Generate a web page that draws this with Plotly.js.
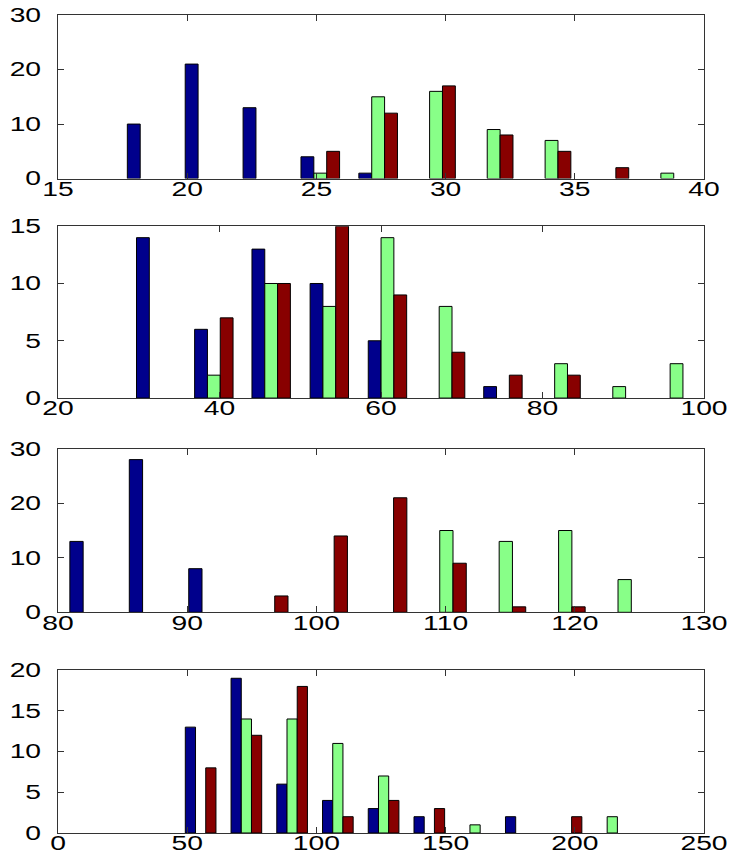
<!DOCTYPE html>
<html><head><meta charset="utf-8">
<script src="https://cdn.plot.ly/plotly-3.0.1.min.js"></script>
<style>html,body{margin:0;padding:0;background:#fff}</style>
</head><body><div id="chart" style="width:734px;height:860px"></div>
<script>
// Panel 1
const centers1 = [18.43, 20.67, 22.91, 25.15, 27.39, 29.63, 31.86, 34.10, 36.34, 38.58];
const blue1  = [10, 21, 13, 4, 1, 0, 0, 0, 0, 0];
const green1 = [0, 0, 0, 1, 15, 16, 9, 7, 0, 1];
const red1   = [0, 0, 0, 5, 12, 17, 8, 5, 2, 0];
// Panel 2
const centers2 = [32.1, 39.3, 46.4, 53.6, 60.8, 68.0, 75.1, 82.3, 89.5, 96.6];
const blue2  = [14, 6, 13, 10, 5, 0, 1, 0, 0, 0];
const green2 = [0, 2, 10, 8, 14, 8, 0, 3, 1, 3];
const red2   = [0, 7, 10, 15, 9, 4, 2, 2, 0, 0];
// Panel 3
const centers3 = [82.46, 87.06, 91.66, 96.26, 100.86, 105.46, 110.06, 114.66, 119.26, 123.86];
const blue3  = [13, 28, 8, 0, 0, 0, 0, 0, 0, 0];
const green3 = [0, 0, 0, 0, 0, 0, 15, 13, 15, 6];
const red3   = [0, 0, 0, 3, 14, 21, 9, 1, 1, 0];
// Panel 4
const centers4 = [55.2, 72.9, 90.6, 108.3, 126.0, 143.7, 161.4, 179.1, 196.8, 214.5];
const blue4  = [13, 19, 6, 4, 3, 2, 0, 2, 0, 0];
const green4 = [0, 14, 14, 11, 7, 0, 1, 0, 0, 2];
const red4   = [8, 12, 18, 2, 4, 3, 0, 0, 2, 0];

const xRanges = [[15, 40], [20, 100], [80, 130], [0, 250]];
const xDticks = [5, 20, 10, 50];
const yRanges = [[0, 30], [0, 15], [0, 30], [0, 20]];
const yDticks = [10, 5, 10, 5];

const colors = ['#00008c', '#88ff88', '#880000'];
const panels = [
  [centers1, blue1, green1, red1],
  [centers2, blue2, green2, red2],
  [centers3, blue3, green3, red3],
  [centers4, blue4, green4, red4]
];
const domains = [[0.800, 1.0], [0.5317, 0.7418], [0.2698, 0.4698], [0, 0.1991]];

const data = [];
panels.forEach((p, i) => {
  const sfx = i === 0 ? '' : String(i + 1);
  for (let s = 0; s < 3; s++) {
    const vals = p[s + 1];
    data.push({
      type: 'bar', x: p[0], y: vals,
      xaxis: 'x' + sfx, yaxis: 'y' + sfx,
      marker: {color: colors[s], line: {color: '#000', width: vals.map(v => v === 0 ? 0 : 1)}},
      hoverinfo: 'x+y'
    });
  }
});

const axisCommon = {
  showline: true, linecolor: '#333', linewidth: 1, mirror: 'ticks',
  ticks: 'inside', ticklen: 6, tickcolor: '#333', tickwidth: 1,
  showgrid: false, zeroline: false, fixedrange: true,
  tickfont: {family: 'Liberation Sans, Arial, sans-serif', size: 19.5, color: '#000'}
};

const layout = {
  width: 734, height: 860,
  margin: {l: 58, r: 30, t: 15, b: 26.5},
  paper_bgcolor: '#fff', plot_bgcolor: '#fff',
  showlegend: false, barmode: 'group', bargap: 0.33, bargroupgap: 0
};
for (let i = 0; i < 4; i++) {
  const sfx = i === 0 ? '' : String(i + 1);
  layout['xaxis' + sfx] = Object.assign({}, axisCommon, {
    range: xRanges[i], tickmode: 'linear', tick0: xRanges[i][0], dtick: xDticks[i],
    anchor: 'y' + sfx, domain: [0, 1], ticklabelstandoff: -7
  });
  layout['yaxis' + sfx] = Object.assign({}, axisCommon, {
    range: yRanges[i], tickmode: 'linear', tick0: 0, dtick: yDticks[i],
    anchor: 'x' + sfx, domain: domains[i], ticklabelstandoff: 12
  });
}

function stretchLabels() {
  const sx = 1.45;
  document.querySelectorAll('#chart .xaxislayer-above text, #chart .yaxislayer-above text').forEach(t => {
    if (t.dataset.stretched) return;
    const x = parseFloat(t.getAttribute('x')) || 0;
    const prev = t.getAttribute('transform') || '';
    t.setAttribute('transform', prev + ' translate(' + x + ',0) scale(' + sx + ',1) translate(' + (-x) + ',0)');
    t.dataset.stretched = '1';
  });
}

Plotly.newPlot('chart', data, layout, {displayModeBar: false, staticPlot: true}).then(stretchLabels);
</script>
</body></html>
